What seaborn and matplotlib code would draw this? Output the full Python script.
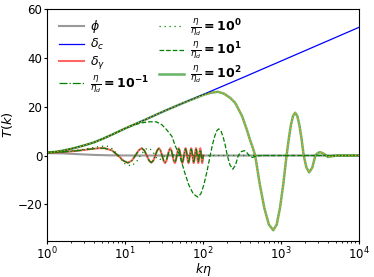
import matplotlib
matplotlib.use("Agg")
import matplotlib.pyplot as plt
import seaborn as sns
import pandas as pd

# phi: (k*eta, T)
phi_pts = [(1, 1.0), (1.6, 0.85), (2.5, 0.55), (4, 0.25), (6.3, 0.08), (10, 0.02),
           (20, 0.0), (10000, 0.0)]

# delta_c, grows like log(k)
dc_k = [1, 1.26, 1.58, 2, 2.51, 3.16, 3.98, 5.01, 6.31, 7.94, 10, 17.8, 31.6, 100, 316, 1000, 3162, 10000]
dc_T = [1.2, 1.5, 2.0, 2.7, 3.5, 4.4, 5.4, 6.7, 8.1, 9.6, 11.1, 14.6, 18.2, 25.0, 31.8, 38.7, 45.6, 52.5]

# delta_gamma and eta/eta_d = 1e-1 (only up to k*eta = 100)
dg_k = [1, 1.5, 2, 2.5, 3, 3.5, 4, 4.7, 5.4, 6.75, 8.1, 9.45, 10.8,
        12.15, 13.5, 14.85, 16.2, 17.55, 18.9, 20.25, 21.6,
        22.95, 24.3, 25.65, 27, 28.35, 29.7, 31.05, 32.4,
        33.75, 35.1, 36.45, 37.8, 39.15, 40.5, 41.85, 43.2,
        44.55, 45.9, 47.25, 48.6, 49.95, 51.3, 52.65, 54,
        55.35, 56.7, 58.05, 59.4, 60.75, 62.1, 63.45, 64.8,
        66.15, 67.5, 68.85, 70.2, 71.55, 72.9, 74.25, 75.6,
        76.95, 78.3, 79.65, 81, 82.35, 83.7, 85.05, 86.4,
        87.75, 89.1, 90.45, 91.8, 93.15, 94.5, 95.85, 97.2,
        98.55, 100]
dg_T = [1.2, 1.4, 1.7, 2.0, 2.3, 2.6, 2.8, 3.0, 3.0, 2.1, 0, -2.1, -3.0,
        -2.1, 0, 2.1, 3.0, 2.1, 0, -2.1, -2.9,
        -2.1, 0, 2.1, 3.0, 2.1, 0, -2.2, -3.1,
        -2.2, 0, 2.1, 3.0, 2.1, 0, -2.2, -3.1,
        -2.2, 0, 2.1, 3.0, 2.1, 0, -2.2, -3.1,
        -2.2, 0, 2.1, 3.0, 2.1, 0, -2.2, -3.1,
        -2.2, 0, 2.1, 3.0, 2.1, 0, -2.2, -3.1,
        -2.2, 0, 2.1, 3.0, 2.1, 0, -2.2, -3.1,
        -2.2, 0, 2.1, 3.0, 2.1, 0, -2.2, -3.1,
        -2.2, 0]
dm1_T = [1.2, 1.4, 1.7, 2.0, 2.3, 2.6, 2.8, 3.0, 3.0, 2.1, 0, -2.1, -3.0,
         -2.1, 0, 2.1, 3.0, 2.1, 0, -2.1, -2.9,
         -2.0, 0, 2.0, 2.9, 2.0, 0, -2.0, -2.9,
         -2.0, 0, 2.0, 2.8, 2.0, 0, -2.0, -2.8,
         -1.9, 0, 1.9, 2.7, 1.9, 0, -1.9, -2.7,
         -1.9, 0, 1.9, 2.7, 1.9, 0, -1.9, -2.7,
         -1.8, 0, 1.8, 2.6, 1.8, 0, -1.8, -2.6,
         -1.8, 0, 1.8, 2.5, 1.8, 0, -1.8, -2.5,
         -1.7, 0, 1.7, 2.4, 1.7, 0, -1.7, -2.4,
         -1.7, 0]

# eta/eta_d = 1e0
d0_pts = [(1, 1.2), (2, 1.8), (3, 2.6), (4, 3.3), (5, 3.8), (5.8, 3.9), (7, 2.6), (8.5, -1.0),
          (10, -3.5), (12, -4.3), (14, -2.5), (16, 0.5), (18.5, 2.7), (20.5, 3.0), (23, 1.2),
          (25.7, -1.5), (28, -1.6), (31, -0.5), (35, 0.5), (40, 0.3), (50, 0.0), (10000, 0.0)]

# eta/eta_d = 1e1
d1_pts = [(1, 1.2), (1.26, 1.5), (1.58, 2.0), (2, 2.7), (2.51, 3.5), (3.16, 4.4), (3.98, 5.4),
          (5.01, 6.7), (6.31, 8.1), (7.94, 9.6), (10, 11.1), (12.6, 12.4), (15.8, 13.3),
          (20, 13.8), (25.1, 13.8), (29.5, 12.6), (33.9, 10.6), (39.8, 7.8), (43.7, 4.0),
          (50.1, 0.0), (57.3, -6.5), (65.3, -12.0), (74.6, -15.7), (85.1, -17.0), (93.3, -15.7),
          (102, -12.0), (112, -6.5), (123, 0.0), (131, 4.2), (140, 7.7), (149, 10.1),
          (158.5, 10.9), (169, 10.1), (180, 7.7), (192, 4.2), (204, 0.0), (221, -3.9),
          (240, -5.6), (260, -3.9), (282, 0.0), (309, 1.6), (339, 2.0), (363, 1.2), (389, 0.0),
          (427, -0.8), (479, -0.2), (562, 0.0), (10000, 0.0)]

# eta/eta_d = 1e2
d2_pts = [(1, 1.2), (1.26, 1.5), (1.58, 2.0), (2, 2.7), (2.51, 3.5), (3.16, 4.4), (3.98, 5.4),
          (5.01, 6.7), (6.31, 8.1), (7.94, 9.6), (10, 11.1), (17.8, 14.6), (31.6, 18.2),
          (56.2, 21.6), (79.4, 23.5), (100, 24.8), (126, 25.7), (155, 26.1), (186, 25.3),
          (224, 23.5), (257, 21.6), (288, 18.6), (316, 16.1), (363, 10.6), (398, 6.5),
          (437, 2.8), (465, 0.0), (532, -11.7), (610, -21.6), (697, -28.3), (794, -30.6),
          (877, -28.3), (966, -21.6), (1067, -11.7), (1175, 0.0), (1253, 6.7), (1334, 12.4),
          (1422, 16.2), (1514, 17.5), (1614, 16.2), (1718, 12.4), (1832, 6.7), (1950, 0.0),
          (2113, -4.9), (2291, -6.9), (2512, -4.9), (2754, 0.0), (2951, 1.0), (3162, 1.4),
          (3548, 0.7), (3981, -0.6), (4467, -0.3), (5248, 0.0), (10000, 0.0)]


def frame(pts):
    return pd.DataFrame(pts, columns=["k", "T"])


fig = plt.figure(figsize=(3.74, 2.77), dpi=100)
ax = fig.add_axes([0.1265, 0.13, 0.8335, 0.8375])

kw = dict(x="k", y="T", ax=ax, estimator=None, sort=False)
sns.lineplot(data=frame(phi_pts), color="#999999", lw=1.5, label=r"$\phi$", **kw)
sns.lineplot(data=pd.DataFrame({"k": dc_k, "T": dc_T}), color="blue", lw=0.9,
             label=r"$\delta_c$", **kw)
sns.lineplot(data=pd.DataFrame({"k": dg_k, "T": dg_T}), color="red", lw=1.5, alpha=0.6,
             label=r"$\delta_\gamma$", **kw)
sns.lineplot(data=pd.DataFrame({"k": dg_k, "T": dm1_T}), color="green", lw=0.9, ls="-.",
             label=r"$\frac{\eta}{\eta_d}\mathbf{=10^{-1}}$", **kw)
sns.lineplot(data=frame(d0_pts), color="green", lw=0.9, ls=(0, (1, 3)),
             label=r"$\frac{\eta}{\eta_d}\mathbf{=10^{0}}$", **kw)
sns.lineplot(data=frame(d1_pts), color="green", lw=0.9, ls="--",
             label=r"$\frac{\eta}{\eta_d}\mathbf{=10^{1}}$", **kw)
sns.lineplot(data=frame(d2_pts), color="green", lw=1.8, alpha=0.6,
             label=r"$\frac{\eta}{\eta_d}\mathbf{=10^{2}}$", **kw)
sns.lineplot(data=frame(d2_pts), color="orange", lw=0.9, ls=":", **kw)

ax.set_xscale("log")
ax.set_xlim(1, 1e4)
ax.set_ylim(-35, 60)
ax.set_yticks([-20, 0, 20, 40, 60])
ax.tick_params(labelsize=8.5, length=2.5, pad=1.2)
ax.tick_params(which="minor", length=1.5)
ax.set_xlabel(r"$k\eta$", fontsize=9)
ax.set_ylabel(r"$T(k)$", fontsize=9.5)
ax.xaxis.set_label_coords(0.5, -0.088)
ax.yaxis.set_label_coords(-0.105, 0.5)
ax.legend(loc="upper left", bbox_to_anchor=(0.018, 0.995), ncol=2, frameon=False,
          fontsize=9, columnspacing=0.8, labelspacing=0.15, handlelength=2.0,
          handletextpad=0.5, borderaxespad=0.05)

fig.savefig("out.png", dpi=100)
